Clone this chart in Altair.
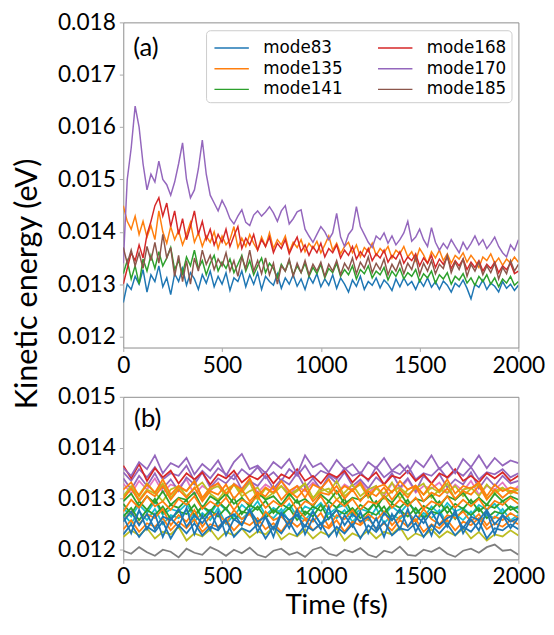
import altair as alt
import pandas as pd

# ---------------- data (energies in units of 1e-5 eV) ----------------
TIME_A = list(range(0, 2001, 20))   # fs, panel (a)
TIME_B = list(range(0, 2001, 40))   # fs, panel (b)

mode83 = [1265, 1300, 1290, 1315, 1300, 1328, 1285, 1318, 1305, 1335,
          1295, 1312, 1280, 1320, 1305, 1330, 1298, 1322, 1310, 1290,
          1318, 1302, 1325, 1295, 1315, 1300, 1322, 1288, 1312, 1305,
          1325, 1295, 1318, 1300, 1322, 1290, 1315, 1305, 1298, 1320,
          1292, 1312, 1300, 1318, 1296, 1310, 1290, 1315, 1302, 1320,
          1295, 1310, 1298, 1318, 1292, 1312, 1300, 1285, 1308, 1296,
          1315, 1290, 1305, 1298, 1312, 1293, 1308, 1300, 1288, 1310,
          1295, 1312, 1298, 1305, 1290, 1308, 1296, 1312, 1294, 1305,
          1290, 1306, 1298, 1285, 1302, 1295, 1308, 1292, 1272, 1300,
          1294, 1308, 1290, 1302, 1296, 1285, 1305, 1292, 1300, 1288,
          1298]
mode135 = [1450, 1420, 1405, 1430, 1395, 1420, 1390, 1412, 1385, 1440,
           1400, 1378, 1410, 1385, 1402, 1375, 1395, 1418, 1380, 1398,
           1372, 1392, 1380, 1400, 1368, 1392, 1375, 1385, 1410, 1370,
           1388, 1372, 1395, 1378, 1365, 1390, 1372, 1398, 1368, 1385,
           1375, 1392, 1362, 1380, 1370, 1385, 1362, 1378, 1368, 1382,
           1360, 1375, 1392, 1365, 1378, 1358, 1372, 1380, 1360, 1375,
           1352, 1370, 1362, 1378, 1355, 1368, 1360, 1372, 1350, 1365,
           1358, 1372, 1352, 1362, 1345, 1368, 1356, 1340, 1362, 1350,
           1365, 1345, 1358, 1340, 1355, 1348, 1360, 1342, 1355, 1345,
           1332, 1352, 1345, 1358, 1340, 1350, 1336, 1348, 1340, 1352,
           1342]
mode141 = [1320, 1345, 1310, 1335, 1300, 1348, 1325, 1355, 1330, 1362,
           1335, 1350, 1370, 1328, 1345, 1320, 1352, 1335, 1365, 1330,
           1345, 1318, 1340, 1355, 1325, 1342, 1330, 1348, 1322, 1338,
           1355, 1325, 1345, 1318, 1335, 1350, 1322, 1340, 1330, 1312,
           1338, 1325, 1345, 1318, 1335, 1322, 1340, 1315, 1332, 1320,
           1338, 1312, 1330, 1322, 1340, 1315, 1328, 1318, 1335, 1310,
           1328, 1320, 1335, 1312, 1325, 1318, 1332, 1308, 1325, 1315,
           1330, 1310, 1322, 1315, 1328, 1305, 1320, 1312, 1325, 1302,
           1318, 1310, 1322, 1300, 1315, 1308, 1320, 1302, 1312, 1298,
           1315, 1305, 1318, 1300, 1312, 1295, 1310, 1302, 1315, 1298,
           1305]
mode168 = [1300, 1330, 1360, 1345, 1375, 1350, 1395, 1420, 1450, 1465,
           1430, 1455, 1410, 1440, 1395, 1425, 1385, 1410, 1440, 1395,
           1420, 1385, 1405, 1375, 1395, 1380, 1405, 1372, 1392, 1410,
           1368, 1388, 1375, 1395, 1365, 1385, 1372, 1390, 1360, 1378,
           1368, 1385, 1358, 1375, 1390, 1362, 1375, 1355, 1372, 1360,
           1378, 1352, 1368, 1360, 1375, 1350, 1365, 1355, 1372, 1348,
           1362, 1352, 1368, 1345, 1358, 1350, 1365, 1342, 1355, 1348,
           1362, 1340, 1352, 1345, 1358, 1335, 1350, 1340, 1355, 1332,
           1348, 1338, 1352, 1330, 1345, 1335, 1348, 1328, 1342, 1332,
           1345, 1325, 1338, 1330, 1342, 1322, 1335, 1328, 1340, 1320,
           1325]
mode170 = [1340, 1500, 1560, 1640, 1600, 1530, 1480, 1510, 1495, 1535,
           1500, 1490, 1470, 1495, 1530, 1570, 1500, 1465, 1480, 1520,
           1575, 1510, 1470, 1455, 1440, 1460, 1445, 1425, 1415, 1430,
           1442, 1418, 1412, 1432, 1440, 1430, 1438, 1448, 1436, 1420,
           1440, 1450, 1415, 1425, 1438, 1442, 1405, 1392, 1380, 1395,
           1410, 1400, 1385, 1398, 1435, 1390, 1372, 1395, 1405, 1448,
           1410, 1395, 1380, 1370, 1392, 1385, 1398, 1378, 1392, 1375,
           1385, 1398, 1420, 1382, 1390, 1405, 1385, 1372, 1408, 1380,
           1365, 1378, 1368, 1385, 1372, 1360, 1380, 1366, 1378, 1392,
           1375, 1385, 1368, 1378, 1390, 1372, 1360, 1352, 1375, 1365,
           1385]
mode185 = [1370, 1340, 1365, 1335, 1360, 1330, 1372, 1345, 1380, 1340,
           1395, 1350, 1370, 1315, 1355, 1305, 1345, 1300, 1350, 1325,
           1365, 1338, 1355, 1328, 1348, 1335, 1360, 1325, 1345, 1315,
           1352, 1330, 1365, 1325, 1345, 1320, 1350, 1318, 1340, 1300,
           1335, 1325, 1348, 1315, 1340, 1322, 1345, 1318, 1338, 1325,
           1342, 1315, 1338, 1325, 1345, 1318, 1340, 1328, 1350, 1320,
           1342, 1330, 1352, 1322, 1340, 1328, 1348, 1318, 1338, 1325,
           1345, 1320, 1340, 1328, 1352, 1318, 1340, 1325, 1345, 1320,
           1338, 1330, 1355, 1322, 1342, 1328, 1348, 1315, 1338, 1325,
           1342, 1318, 1335, 1322, 1340, 1310, 1332, 1320, 1345, 1325,
           1338]

SERIES_A = ["mode83", "mode135", "mode141", "mode168", "mode170", "mode185"]
VALUES_A = [mode83, mode135, mode141, mode168, mode170, mode185]
COLORS_A = ["#1f77b4", "#ff7f0e", "#2ca02c", "#d62728", "#9467bd", "#8c564b"]

# panel (b): all modes
b_gray = [1198, 1192, 1205, 1195, 1188, 1200, 1196, 1185, 1202, 1194,
          1190, 1205, 1198, 1188, 1200, 1193, 1204, 1190, 1185, 1198,
          1202, 1190, 1195, 1186, 1200, 1205, 1192, 1188, 1200, 1195,
          1203, 1190, 1185, 1198, 1194, 1206, 1190, 1188, 1200, 1196,
          1204, 1192, 1186, 1198, 1202, 1194, 1205, 1210, 1198, 1200,
          1190]
b_olive2 = [1225, 1238, 1228, 1242, 1222, 1235, 1230, 1245, 1218, 1232,
            1226, 1240, 1220, 1235, 1228, 1242, 1224, 1236, 1230, 1245,
            1220, 1232, 1226, 1240, 1222, 1235, 1228, 1242, 1218, 1232,
            1225, 1238, 1222, 1235, 1230, 1245, 1220, 1232, 1226, 1240,
            1224, 1236, 1228, 1242, 1222, 1235, 1218, 1230, 1226, 1238,
            1228]
b_pink = [1330, 1310, 1335, 1318, 1340, 1312, 1328, 1322, 1338, 1308,
          1325, 1315, 1332, 1305, 1330, 1320, 1338, 1312, 1328, 1318,
          1335, 1308, 1325, 1315, 1332, 1320, 1338, 1310, 1328, 1318,
          1335, 1312, 1325, 1305, 1330, 1318, 1338, 1312, 1325, 1320,
          1332, 1310, 1328, 1315, 1335, 1308, 1325, 1318, 1332, 1312,
          1325]
b_purple3 = [1352, 1335, 1358, 1342, 1362, 1338, 1350, 1345, 1365, 1335,
             1355, 1340, 1360, 1348, 1338, 1358, 1345, 1362, 1340, 1352,
             1335, 1358, 1345, 1365, 1340, 1355, 1348, 1338, 1360, 1345,
             1352, 1335, 1362, 1342, 1355, 1348, 1365, 1338, 1350, 1345,
             1360, 1340, 1355, 1345, 1362, 1338, 1352, 1348, 1358, 1342,
             1350]
b_purple2 = [1340, 1318, 1345, 1325, 1350, 1320, 1338, 1315, 1342, 1328,
             1352, 1322, 1340, 1330, 1348, 1318, 1335, 1325, 1345, 1320,
             1338, 1328, 1350, 1322, 1340, 1318, 1345, 1330, 1352, 1325,
             1338, 1320, 1342, 1328, 1350, 1322, 1340, 1315, 1345, 1330,
             1348, 1322, 1338, 1328, 1352, 1320, 1342, 1325, 1345, 1330,
             1335]
b_red = [1365, 1340, 1368, 1335, 1360, 1342, 1355, 1330, 1350, 1338,
         1352, 1328, 1348, 1340, 1355, 1332, 1345, 1338, 1352, 1330,
         1348, 1340, 1358, 1335, 1345, 1330, 1350, 1342, 1355, 1332,
         1348, 1338, 1352, 1328, 1345, 1340, 1355, 1335, 1348, 1330,
         1350, 1342, 1358, 1335, 1345, 1332, 1350, 1340, 1352, 1335,
         1345]
b_olive = [1300, 1322, 1308, 1330, 1312, 1295, 1318, 1325, 1305, 1320,
           1332, 1310, 1298, 1318, 1328, 1305, 1315, 1322, 1300, 1312,
           1325, 1308, 1318, 1330, 1302, 1315, 1320, 1298, 1312, 1328,
           1305, 1318, 1325, 1300, 1315, 1322, 1308, 1320, 1330, 1302,
           1318, 1312, 1325, 1305, 1320, 1328, 1300, 1315, 1322, 1310,
           1318]
b_olive3 = [1305, 1325, 1298, 1318, 1310, 1330, 1302, 1322, 1315, 1335,
            1300, 1318, 1325, 1305, 1328, 1312, 1332, 1298, 1320, 1310,
            1325, 1305, 1315, 1330, 1300, 1322, 1312, 1335, 1305, 1318,
            1328, 1302, 1320, 1310, 1332, 1300, 1318, 1325, 1308, 1322,
            1312, 1330, 1298, 1318, 1322, 1305, 1328, 1310, 1320, 1315,
            1318]
b_cyan = [1270, 1252, 1275, 1258, 1280, 1250, 1268, 1262, 1278, 1255,
          1272, 1258, 1282, 1250, 1268, 1260, 1275, 1252, 1270, 1262,
          1280, 1255, 1268, 1258, 1276, 1250, 1272, 1262, 1278, 1255,
          1270, 1258, 1282, 1252, 1268, 1260, 1275, 1255, 1272, 1262,
          1278, 1250, 1270, 1258, 1275, 1255, 1268, 1262, 1280, 1258,
          1268]
b_cyan2 = [1282, 1265, 1288, 1272, 1295, 1268, 1280, 1275, 1290, 1262,
           1285, 1270, 1292, 1278, 1265, 1288, 1275, 1295, 1268, 1282,
           1272, 1290, 1265, 1285, 1278, 1292, 1270, 1282, 1288, 1265,
           1280, 1275, 1295, 1268, 1285, 1272, 1290, 1278, 1262, 1285,
           1270, 1292, 1275, 1282, 1268, 1288, 1278, 1290, 1272, 1285,
           1280]
b_green2 = [1265, 1282, 1258, 1278, 1268, 1285, 1260, 1275, 1270, 1288,
            1262, 1278, 1265, 1282, 1258, 1275, 1270, 1285, 1262, 1278,
            1268, 1282, 1258, 1275, 1265, 1288, 1260, 1278, 1270, 1282,
            1262, 1275, 1268, 1285, 1258, 1278, 1265, 1282, 1262, 1275,
            1270, 1285, 1260, 1278, 1268, 1282, 1262, 1275, 1270, 1285,
            1272]
b_green3 = [1295, 1310, 1285, 1305, 1292, 1315, 1288, 1302, 1298, 1312,
            1282, 1305, 1295, 1310, 1290, 1302, 1285, 1312, 1298, 1305,
            1288, 1310, 1292, 1300, 1285, 1308, 1295, 1315, 1290, 1302,
            1298, 1310, 1282, 1305, 1292, 1312, 1288, 1300, 1295, 1308,
            1285, 1305, 1298, 1312, 1290, 1302, 1288, 1310, 1295, 1305,
            1298]
b_green1 = [1290, 1270, 1295, 1278, 1300, 1272, 1288, 1282, 1298, 1268,
            1285, 1275, 1295, 1280, 1302, 1270, 1288, 1278, 1296, 1272,
            1290, 1280, 1298, 1268, 1285, 1276, 1295, 1282, 1300, 1270,
            1288, 1278, 1295, 1272, 1290, 1282, 1298, 1270, 1286, 1278,
            1295, 1272, 1290, 1280, 1298, 1275, 1288, 1282, 1296, 1278,
            1285]
b_orange3 = [1240, 1258, 1235, 1252, 1245, 1262, 1238, 1255, 1242, 1260,
             1235, 1250, 1245, 1258, 1238, 1255, 1248, 1262, 1240, 1252,
             1235, 1258, 1245, 1260, 1238, 1250, 1242, 1258, 1235, 1255,
             1248, 1262, 1240, 1252, 1238, 1258, 1245, 1260, 1235, 1250,
             1242, 1258, 1238, 1255, 1248, 1262, 1240, 1252, 1245, 1258,
             1250]
b_orange5 = [1258, 1275, 1250, 1270, 1262, 1280, 1248, 1268, 1255, 1278,
             1245, 1265, 1272, 1252, 1278, 1260, 1270, 1248, 1275, 1258,
             1265, 1250, 1280, 1262, 1255, 1272, 1245, 1268, 1260, 1278,
             1252, 1270, 1258, 1275, 1248, 1265, 1272, 1255, 1280, 1260,
             1250, 1268, 1262, 1275, 1255, 1270, 1248, 1265, 1258, 1272,
             1262]
b_orange2 = [1275, 1298, 1282, 1305, 1285, 1295, 1278, 1300, 1288, 1305,
             1280, 1295, 1285, 1302, 1278, 1298, 1290, 1305, 1282, 1296,
             1285, 1302, 1278, 1295, 1288, 1305, 1280, 1298, 1285, 1300,
             1278, 1295, 1290, 1305, 1282, 1298, 1285, 1302, 1280, 1295,
             1288, 1305, 1282, 1298, 1285, 1300, 1278, 1296, 1288, 1302,
             1290]
b_orange4 = [1318, 1332, 1305, 1328, 1312, 1338, 1308, 1325, 1315, 1335,
             1302, 1322, 1330, 1310, 1328, 1318, 1340, 1305, 1322, 1312,
             1335, 1315, 1325, 1302, 1328, 1320, 1338, 1310, 1325, 1315,
             1332, 1305, 1322, 1328, 1312, 1335, 1318, 1326, 1308, 1330,
             1315, 1338, 1310, 1325, 1320, 1332, 1305, 1328, 1315, 1322,
             1318]
b_orange1 = [1300, 1320, 1295, 1315, 1305, 1325, 1298, 1318, 1302, 1322,
             1295, 1315, 1308, 1328, 1300, 1318, 1295, 1312, 1305, 1325,
             1298, 1315, 1302, 1320, 1295, 1312, 1308, 1325, 1300, 1318,
             1295, 1315, 1305, 1322, 1298, 1318, 1302, 1325, 1295, 1312,
             1305, 1320, 1300, 1315, 1308, 1325, 1298, 1318, 1302, 1315,
             1310]
b_blue3 = [1255, 1275, 1248, 1270, 1240, 1265, 1258, 1280, 1245, 1268,
           1252, 1275, 1242, 1262, 1270, 1248, 1278, 1255, 1265, 1240,
           1272, 1258, 1268, 1245, 1275, 1250, 1262, 1278, 1248, 1270,
           1255, 1265, 1240, 1272, 1258, 1280, 1245, 1268, 1252, 1275,
           1248, 1262, 1270, 1242, 1265, 1258, 1278, 1250, 1268, 1255,
           1262]
b_blue2 = [1230, 1250, 1225, 1245, 1235, 1255, 1222, 1248, 1232, 1252,
           1228, 1245, 1238, 1258, 1225, 1242, 1235, 1250, 1222, 1245,
           1232, 1255, 1228, 1248, 1238, 1252, 1225, 1245, 1232, 1250,
           1222, 1248, 1235, 1255, 1228, 1242, 1238, 1252, 1225, 1248,
           1232, 1250, 1228, 1245, 1235, 1255, 1222, 1242, 1238, 1250,
           1240]
b_blue1 = [1265, 1232, 1278, 1240, 1270, 1225, 1262, 1245, 1282, 1230,
           1268, 1238, 1275, 1228, 1260, 1248, 1280, 1235, 1265, 1225,
           1272, 1242, 1278, 1230, 1262, 1240, 1285, 1228, 1268, 1245,
           1275, 1232, 1262, 1225, 1270, 1240, 1280, 1235, 1265, 1228,
           1272, 1245, 1278, 1232, 1260, 1238, 1275, 1230, 1268, 1242,
           1262]
b_purple1 = [1360, 1345, 1372, 1358, 1385, 1350, 1370, 1362, 1380, 1348,
             1368, 1355, 1375, 1345, 1372, 1388, 1358, 1365, 1350, 1372,
             1360, 1378, 1348, 1385, 1362, 1370, 1352, 1376, 1358, 1368,
             1348, 1372, 1360, 1380, 1355, 1368, 1350, 1375, 1362, 1385,
             1358, 1372, 1350, 1378, 1362, 1385, 1360, 1380, 1365, 1375,
             1370]

# drawn bottom first
VALUES_B = [b_gray, b_olive2, b_pink, b_purple3, b_purple2, b_red, b_olive,
            b_olive3, b_cyan, b_cyan2, b_green2, b_green3, b_green1,
            b_orange3, b_orange5, b_orange2, b_orange4, b_orange1,
            b_blue3, b_blue2, b_blue1, b_purple1]
COLORS_B = ["#7f7f7f", "#bcbd22", "#e377c2", "#9467bd", "#9467bd", "#d62728",
            "#bcbd22", "#bcbd22", "#17becf", "#17becf", "#2ca02c", "#2ca02c",
            "#2ca02c", "#ff7f0e", "#ff7f0e", "#ff7f0e", "#ff7f0e", "#ff7f0e",
            "#1f77b4", "#1f77b4", "#1f77b4", "#9467bd"]

# ---------------- tables ----------------
rows_a = []
for name, vals in zip(SERIES_A, VALUES_A):
    for t, v in zip(TIME_A, vals):
        rows_a.append({"series": name, "time": t, "energy": v * 1e-5})
df_a = pd.DataFrame(rows_a)

rows_b = []
for i, (vals, col) in enumerate(zip(VALUES_B, COLORS_B)):
    for t, v in zip(TIME_B, vals):
        rows_b.append({"sid": f"s{i:02d}", "col": col, "time": t, "energy": v * 1e-5})
df_b = pd.DataFrame(rows_b)

FONT = "Lato"
X_TICKS = [0, 500, 1000, 1500, 2000]

x_axis_a = alt.Axis(values=X_TICKS, format="d", title=None, labelFlush=False,
                    labelOverlap=False, labelPadding=3)
x_axis_b = alt.Axis(values=X_TICKS, format="d", title="Time (fs)", labelFlush=False,
                    labelOverlap=False, labelPadding=2, titleFont=FONT, titleFontSize=28,
                    titleFontWeight="normal", titleColor="black", titlePadding=4, titleX=216)

line_a = alt.Chart(df_a).mark_line(strokeWidth=1.5, clip=True).encode(
    x=alt.X("time:Q", scale=alt.Scale(domain=[0, 2000], nice=False), axis=x_axis_a),
    y=alt.Y("energy:Q", scale=alt.Scale(domain=[0.01179, 0.018], nice=False, zero=False),
            axis=alt.Axis(values=[0.012, 0.013, 0.014, 0.015, 0.016, 0.017, 0.018],
                          format=".3f", title="Kinetic energy (eV)", labelOverlap=False,
                          titleFont=FONT, titleFontSize=31, titleFontWeight="normal",
                          titleColor="black", titleX=-81, titleY=265)),
    color=alt.Color("series:N",
                    scale=alt.Scale(domain=SERIES_A, range=COLORS_A),
                    legend=alt.Legend(title=None, orient="none", legendX=84, legendY=8,
                                      columns=2, symbolType="M-0.79,0L2.12,0",
                                      symbolSize=576, symbolStrokeWidth=1.5,
                                      labelFont="DejaVu Sans", labelFontSize=17,
                                      labelColor="black", labelOffset=27,
                                      columnPadding=32, rowPadding=0, padding=5,
                                      strokeColor="#cccccc", fillColor="white",
                                      cornerRadius=4)),
)

tag_a = alt.Chart(pd.DataFrame({"label": ["(a)"]})).mark_text(
    font=FONT, fontSize=26, align="left", baseline="middle", color="black"
).encode(x=alt.value(10), y=alt.value(26), text="label:N")

panel_a = alt.layer(line_a, tag_a).properties(width=401, height=330)

line_b = alt.Chart(df_b).mark_line(strokeWidth=1.8, clip=True).encode(
    x=alt.X("time:Q", scale=alt.Scale(domain=[0, 2000], nice=False), axis=x_axis_b),
    y=alt.Y("energy:Q", scale=alt.Scale(domain=[0.01181, 0.015], nice=False, zero=False),
            axis=alt.Axis(values=[0.012, 0.013, 0.014, 0.015], format=".3f", title=None,
                          labelOverlap=False)),
    color=alt.Color("col:N", scale=None),
    detail="sid:N",
)

tag_b = alt.Chart(pd.DataFrame({"label": ["(b)"]})).mark_text(
    font=FONT, fontSize=26, align="left", baseline="middle", color="black"
).encode(x=alt.value(11), y=alt.value(23), text="label:N")

panel_b = alt.layer(line_b, tag_b).properties(width=401, height=165)

chart = alt.vconcat(panel_a, panel_b, spacing=50, bounds="flush").resolve_scale(
    color="independent"
).properties(
    padding={"left": 3, "top": -2, "right": 0, "bottom": 0}
).configure_view(
    stroke="#8c8c8c", strokeWidth=1
).configure_axis(
    grid=False, domain=False, labelFont=FONT, labelFontSize=23, labelColor="black",
    tickColor="#aaaaaa", tickSize=4, labelPadding=4
)

chart.save("out.html", embed_options={"renderer": "svg", "actions": False})
